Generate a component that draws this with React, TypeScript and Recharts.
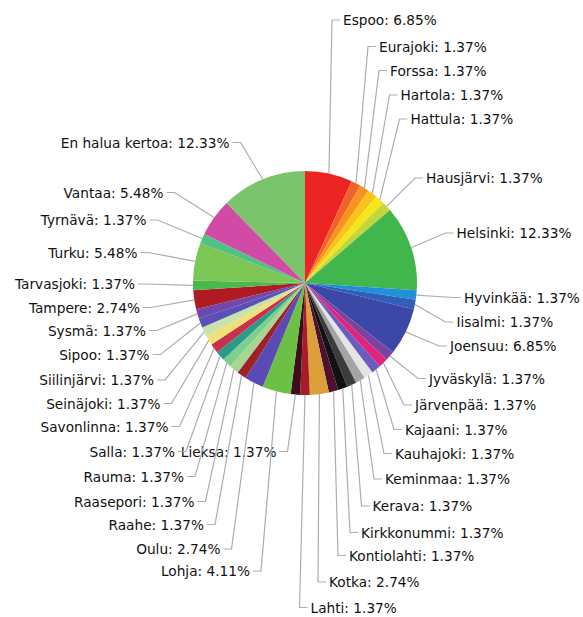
import React from 'react';
import { PieChart, Pie, Cell } from 'recharts';

const cities = [
  'Espoo', 'Eurajoki', 'Forssa', 'Hartola', 'Hattula', 'Hausjärvi', 'Helsinki', 'Hyvinkää',
  'Iisalmi', 'Joensuu', 'Jyväskylä', 'Järvenpää', 'Kajaani', 'Kauhajoki', 'Keminmaa', 'Kerava',
  'Kirkkonummi', 'Kontiolahti', 'Kotka', 'Lahti', 'Lieksa', 'Lohja', 'Oulu', 'Raahe',
  'Raasepori', 'Rauma', 'Salla', 'Savonlinna', 'Seinäjoki', 'Siilinjärvi', 'Sipoo', 'Sysmä',
  'Tampere', 'Tarvasjoki', 'Turku', 'Tyrnävä', 'Vantaa', 'En halua kertoa',
];

// answer counts (73 in total)
const counts = [
  5, 1, 1, 1, 1, 1, 9, 1,
  1, 5, 1, 1, 1, 1, 1, 1,
  1, 1, 2, 1, 1, 3, 2, 1,
  1, 1, 1, 1, 1, 1, 1, 1,
  2, 1, 4, 1, 4, 9,
];

const COLORS = [
  '#ec2424', '#f0632a', '#f7941f', '#f9c31a', '#f3e61c', '#c3d73c', '#40b64c', '#2290d6',
  '#2f5fbb', '#3c48a8', '#7a449e', '#e2237c', '#6c5cbf', '#e4e4e4', '#a4a4a4', '#3c3c3c',
  '#121212', '#4e1230', '#dca03a', '#a81c28', '#3c0e1c', '#6cc144', '#5a4ab6', '#9c2228',
  '#a6d792', '#7ccf8c', '#2b9a8b', '#c8304c', '#f1e07a', '#c6e4a8', '#5c50b8', '#7048ae',
  '#b01a22', '#4bb84b', '#7cc656', '#4fc184', '#d04aa6', '#7cc46c',
];

// label anchor positions (text start on the right side, text end on the left side)
const LABEL_POS: [number, number][] = [
  [343, 20], [379, 46.5], [390, 70.5], [400.5, 95], [410.5, 119], [426, 178], [456.5, 233], [464, 297.5],
  [456.5, 322], [450, 346], [429, 378.5], [415, 405], [405, 429.5], [395, 453.5], [385, 479], [372.5, 506],
  [361, 532.5], [349, 555.5], [329, 582], [310.5, 607.5], [276.5, 451.5], [250, 571], [220.5, 549], [204, 524.5],
  [194.5, 501.5], [184, 476.5], [175, 451.5], [168.5, 426.5], [160.5, 403.5], [154, 380], [149.5, 354.5], [146, 330.5],
  [140, 307.5], [135, 284], [137.5, 252.5], [146.5, 220], [163.5, 192.5], [229.5, 142.5],
];

const data = cities.map((name, i) => ({ name, value: counts[i] }));

const RAD = Math.PI / 180;

const renderLabel = (props: any) => {
  const { cx, cy, midAngle, outerRadius, index, percent, name } = props;
  const ex = cx + outerRadius * Math.cos(-midAngle * RAD);
  const ey = cy + outerRadius * Math.sin(-midAngle * RAD);
  const [lx, ly] = LABEL_POS[index];
  const dir = lx > ex ? 1 : -1;
  return (
    <g key={`lbl-${index}`}>
      <path
        d={`M${ex},${ey}L${lx - dir * 11},${ly}L${lx - dir * 3},${ly}`}
        stroke="#adadad"
        strokeWidth={1.2}
        fill="none"
      />
      <text
        x={lx}
        y={ly}
        textAnchor={dir > 0 ? 'start' : 'end'}
        dominantBaseline="central"
        fill="#111"
        fontSize={13.7}
        fontFamily="'DejaVu Sans', sans-serif"
      >
        {`${name}: ${(percent * 100).toFixed(2)}%`}
      </text>
    </g>
  );
};

const App = () => {
  return (
    <div style={{ position: 'absolute', left: 0, top: 0, width: 583, height: 617, background: '#fff' }}>
      <PieChart width={583} height={617}>
        <Pie
          data={data}
          dataKey="value"
          nameKey="name"
          cx={300}
          cy={278}
          outerRadius={112}
          startAngle={90}
          endAngle={-270}
          stroke="none"
          label={renderLabel}
          labelLine={false}
          isAnimationActive={false}
        >
          {data.map((d, i) => (
            <Cell key={d.name} fill={COLORS[i]} />
          ))}
        </Pie>
      </PieChart>
    </div>
  );
};

export default App;
